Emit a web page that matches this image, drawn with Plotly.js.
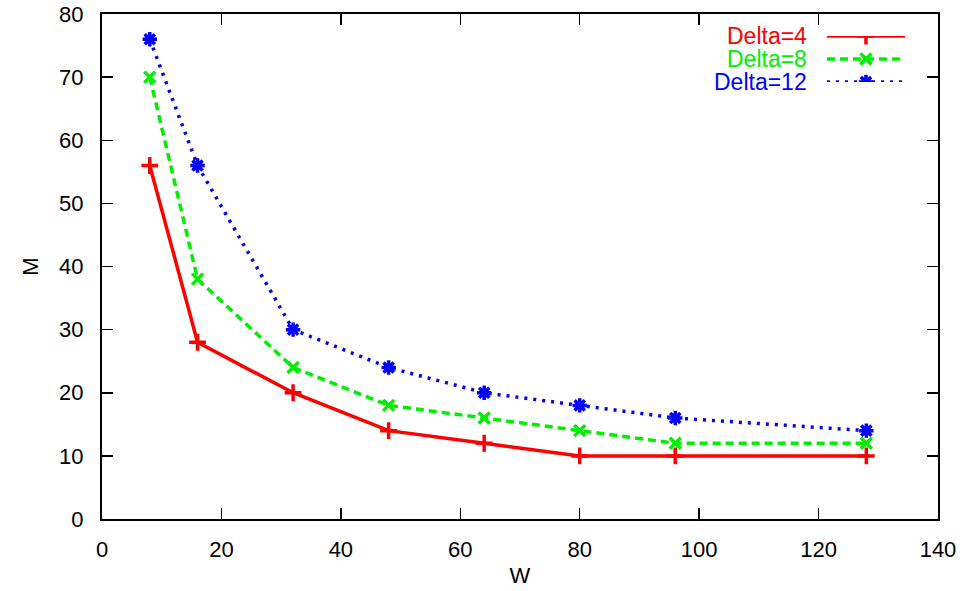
<!DOCTYPE html>
<html>
<head>
<meta charset="utf-8">
<script src="https://cdn.plot.ly/plotly-3.0.1.min.js"></script>
<style>html,body{margin:0;padding:0;background:#fff;}#chart{width:964px;height:591px;}</style>
</head>
<body>
<div id="chart"></div>
<script>
const W = [8, 16, 32, 48, 64, 80, 96, 128];
const delta4 = [56, 28, 20, 14, 12, 10, 10, 10];
const delta8 = [70, 38, 24, 18, 16, 14, 12, 12];
const delta12 = [76, 56, 30, 24, 20, 18, 16, 14];
const seriesNames = ['Delta=4', 'Delta=8', 'Delta=12'];
const xTicks = [0, 20, 40, 60, 80, 100, 120, 140];
const yTicks = [0, 10, 20, 30, 40, 50, 60, 70, 80];

const styles = [
  {color: '#ff0000', dash: 'solid', symbol: 'cross-thin-open', size: 12},
  {color: '#00ee00', dash: '8px,5px', symbol: 'x-thin-open', size: 11},
  {color: '#0000ff', dash: '3px,6px', symbol: 'asterisk-open', size: 12}
];
const allY = [delta4, delta8, delta12];

const traces = [];
allY.forEach((ys, i) => {
  const s = styles[i];
  traces.push({
    x: W, y: ys, type: 'scatter', mode: 'lines+markers', showlegend: false,
    line: {color: s.color, width: 3.5, dash: s.dash},
    marker: {symbol: s.symbol, size: s.size, color: s.color, line: {color: s.color, width: 3.5}},
    hoverinfo: 'skip'
  });
});
// legend samples on an auxiliary axis pair
const legendRows = [2, 1, 0];
allY.forEach((ys, i) => {
  const s = styles[i];
  traces.push({
    x: [0, 1], y: [legendRows[i], legendRows[i]], xaxis: 'x2', yaxis: 'y2',
    type: 'scatter', mode: 'lines', showlegend: false,
    line: {color: s.color, width: 3.5, dash: s.dash}, hoverinfo: 'skip'
  });
  traces.push({
    x: [0.5], y: [legendRows[i]], xaxis: 'x2', yaxis: 'y2',
    type: 'scatter', mode: 'markers', showlegend: false,
    marker: {symbol: s.symbol, size: s.size, color: s.color, line: {color: s.color, width: 3.5}},
    hoverinfo: 'skip'
  });
});

const annotations = seriesNames.map((n, i) => ({
  text: n, x: 0, y: legendRows[i], xref: 'x2', yref: 'y2',
  xanchor: 'right', yanchor: 'middle', xshift: -19, showarrow: false, borderpad: 0,
  font: {family: 'Liberation Sans, Arial, sans-serif', size: 23, color: styles[i].color}
}));

const axisCommon = {
  showgrid: false, zeroline: false, showline: true, linecolor: '#000', linewidth: 2,
  ticks: 'inside', ticklen: 11, tickwidth: 1.5, tickcolor: '#000', mirror: 'ticks',
  tickfont: {family: 'Liberation Sans, Arial, sans-serif', size: 22, color: '#000'}
};

const layout = {
  width: 964, height: 591,
  margin: {l: 102, r: 26, t: 14, b: 72},
  paper_bgcolor: '#fff', plot_bgcolor: '#fff',
  showlegend: false,
  xaxis: Object.assign({}, axisCommon, {
    range: [0, 140], tickvals: xTicks, ticktext: xTicks.map(String), ticklabelstandoff: 10,
    title: {text: 'W', standoff: 6, font: {family: 'Liberation Sans, Arial, sans-serif', size: 22, color: '#000'}}
  }),
  yaxis: Object.assign({}, axisCommon, {
    range: [0, 80], tickvals: yTicks, ticktext: yTicks.map(String), ticklabelstandoff: 12,
    title: {text: 'M', standoff: 14, font: {family: 'Liberation Sans, Arial, sans-serif', size: 22, color: '#000'}}
  }),
  xaxis2: {domain: [0.8672, 0.9605], range: [0, 1], anchor: 'y2', visible: false, fixedrange: true},
  yaxis2: {domain: [0.8653, 0.9564], range: [0, 2], anchor: 'x2', visible: false, fixedrange: true},
  annotations: annotations
};

Plotly.newPlot('chart', traces, layout, {displayModeBar: false, staticPlot: true});
</script>
</body>
</html>
